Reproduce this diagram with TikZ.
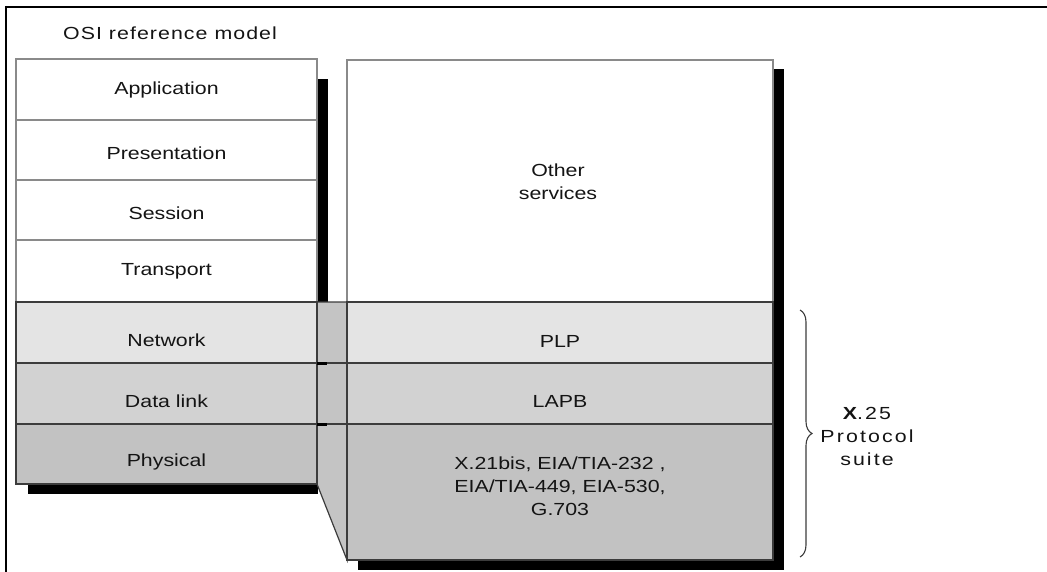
\documentclass[tikz,border=0pt]{standalone}
\usepackage{fontspec}
\setmainfont{Liberation Sans}[FakeStretch=1.22]
\newfontfamily\spacedfont{Liberation Sans}[FakeStretch=1.22, LetterSpace=6]
\newfontfamily\widespaced{Liberation Sans}[FakeStretch=1.22, LetterSpace=12]
\usetikzlibrary{decorations.pathreplacing}
\definecolor{rowA}{HTML}{E4E4E4}
\definecolor{rowB}{HTML}{D2D2D2}
\definecolor{rowC}{HTML}{C2C2C2}
\definecolor{conn}{HTML}{C4C4C4}
\definecolor{edgeL}{HTML}{8A8A8A}
\definecolor{edgeD}{HTML}{3C3C3C}
\definecolor{inkc}{HTML}{141414}
\tikzset{
  layer/.style={draw=edgeD, line width=1.2pt, inner sep=0pt, outer sep=0pt},
  whitelayer/.style={layer, draw=edgeL, fill=white},
  lbl/.style={inner sep=0pt, text=inkc, align=center, font=\fontsize{17.5}{23}\selectfont},
  frameline/.style={draw=black, line width=2pt}
}
\begin{document}
\begin{tikzpicture}[x=1pt, y=-1pt]
\useasboundingbox (0,0) rectangle (1047,572);
% shadows
\fill[black] (317,79) rectangle (328,302);
\fill[black] (28,484) rectangle (318,494);
\fill[black] (773,69) rectangle (784,570);
\fill[black] (358,560) rectangle (784,570);
% connector between stacks
\coordinate (c1) at (317,302);
\coordinate (c2) at (347,302);
\coordinate (c3) at (347,560);
\coordinate (c4) at (317,484);
\filldraw[fill=conn, draw=edgeD, line width=1.2pt] (c1) -- (c2) -- (c3) -- (c4) -- cycle;
% left stack
\node[whitelayer, minimum width=301pt, minimum height=61pt] (app) at (166.5,89.5) {};
\node[whitelayer, minimum width=301pt, minimum height=60pt] (pres) at (166.5,150) {};
\node[whitelayer, minimum width=301pt, minimum height=60pt] (sess) at (166.5,210) {};
\node[whitelayer, minimum width=301pt, minimum height=62pt] (trans) at (166.5,271) {};
\node[layer, fill=rowA, minimum width=301pt, minimum height=61pt] (net) at (166.5,332.5) {};
\node[layer, fill=rowB, minimum width=301pt, minimum height=61pt] (dl) at (166.5,393.5) {};
\node[layer, fill=rowC, minimum width=301pt, minimum height=60pt] (phy) at (166.5,454) {};
\node[lbl] (appt) at (166.5,90) {Application};
\node[lbl] (prest) at (166.5,153) {Presentation};
\node[lbl] (sesst) at (166.5,213) {Session};
\node[lbl] (transt) at (166.5,271) {Transport};
\node[lbl] (nett) at (166.5,340.5) {Network};
\node[lbl] (dlt) at (166.5,401.5) {Data link};
\node[lbl] (phyt) at (166.5,462) {Physical};
% connector row lines
\draw[edgeD, line width=1.2pt] (net.south east) -- (347,363);
\draw[edgeD, line width=1.2pt] (dl.south east) -- (347,424);
\fill[black] (317,362) rectangle (327,364.5);
\fill[black] (317,423) rectangle (327,425.5);
% right stack
\node[whitelayer, minimum width=426pt, minimum height=242pt] (other) at (560,181) {};
\node[layer, fill=rowA, minimum width=426pt, minimum height=61pt] (plp) at (560,332.5) {};
\node[layer, fill=rowB, minimum width=426pt, minimum height=61pt] (lapb) at (560,393.5) {};
\node[layer, fill=rowC, minimum width=426pt, minimum height=136pt] (rphy) at (560,492) {};
\node[lbl] (othert) at (558,182) {Other\\services};
\node[lbl] (plpt) at (560,341) {PLP};
\node[lbl] (lapbt) at (560,401.5) {LAPB};
\node[lbl] (rphyt) at (560,486) {X.21bis, EIA/TIA-232 ,\\EIA/TIA-449, EIA-530,\\G.703};
% title
\node[lbl, font=\fontsize{17.5}{23}\spacedfont] (title) at (170,33) {OSI reference model};
% brace
\coordinate (bt) at (800,310);
\coordinate (bb) at (800,557);
\draw[edgeD, line width=1.1pt, decorate, decoration={brace, amplitude=12pt}] (bt) -- (bb);
\node[lbl, font=\fontsize{17.5}{23}\widespaced] (x25) at (867,436) {\textbf{X}.25\\Protocol\\suite};
% frame
\draw[frameline] (5,7) -- (1047,7);
\draw[frameline] (6,6) -- (6,572);
\end{tikzpicture}
\end{document}
